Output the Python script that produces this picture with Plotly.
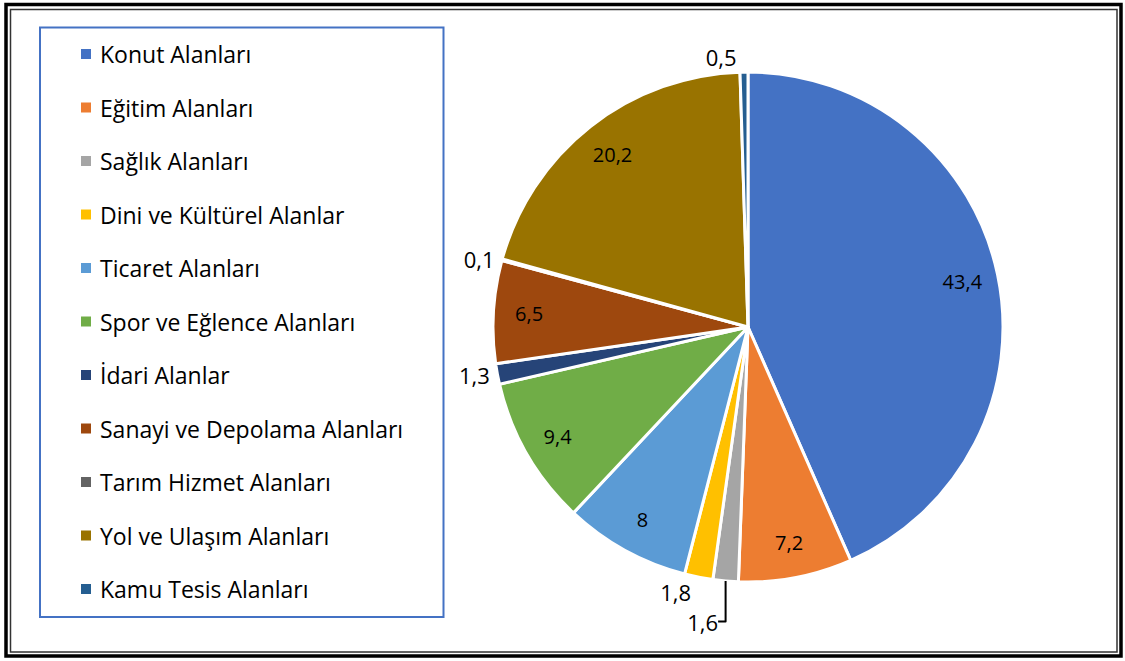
import plotly.graph_objects as go

categories = ["Konut Alanları", "Eğitim Alanları", "Sağlık Alanları", "Dini ve Kültürel Alanlar",
              "Ticaret Alanları", "Spor ve Eğlence Alanları", "İdari Alanlar",
              "Sanayi ve Depolama Alanları", "Tarım Hizmet Alanları", "Yol ve Ulaşım Alanları",
              "Kamu Tesis Alanları"]
values = [43.4, 7.2, 1.6, 1.8, 8, 9.4, 1.3, 6.5, 0.1, 20.2, 0.5]
colors = ["#4472C4", "#ED7D31", "#A5A5A5", "#FFC000", "#5B9BD5", "#70AD47",
          "#264478", "#9E480E", "#636363", "#997300", "#255E91"]
label_inside = [True, True, False, False, True, True, False, True, False, True, False]

W, H = 1125, 661
FONT = "Open Sans"

def px(x):
    return x / W

def py(y):
    return 1 - y / H

cx, cy, r = 748, 327, 255
domain = dict(x=[px(cx - r), px(cx + r)], y=[py(cy + r), py(cy - r)])
infont = dict(family=FONT, size=20, color="black")
outfont = dict(family=FONT, size=22, color="black")

# visible pie, carrying the outside labels
fig = go.Figure(go.Pie(
    labels=categories, values=values, sort=False, direction="clockwise", rotation=0,
    marker=dict(colors=colors, line=dict(color="white", width=3)),
    texttemplate="%{value}",
    textposition=["none" if ins else "outside" for ins in label_inside],
    textfont=outfont, outsidetextfont=outfont,
    domain=domain, showlegend=False, hoverinfo="label+value",
))
# transparent ring carrying the inside labels near the outer edge
fig.add_trace(go.Pie(
    labels=categories, values=values, sort=False, direction="clockwise", rotation=0,
    hole=0.72,
    marker=dict(colors=["rgba(0,0,0,0)"] * len(values), line=dict(width=0)),
    texttemplate="%{value}",
    textposition=["inside" if ins else "none" for ins in label_inside],
    insidetextorientation="horizontal",
    textfont=infont, insidetextfont=infont,
    domain=domain, showlegend=False, hoverinfo="skip",
))

shapes = [
    dict(type="rect", xref="paper", yref="paper", x0=px(6), x1=px(1121), y0=py(656), y1=py(4.5),
         line=dict(color="black", width=3.5)),
    dict(type="rect", xref="paper", yref="paper", x0=px(10.5), x1=px(1117), y0=py(652), y1=py(9.5),
         line=dict(color="#333333", width=1.5)),
    dict(type="rect", xref="paper", yref="paper", x0=px(40), x1=px(443.5), y0=py(617), y1=py(27.5),
         line=dict(color="#4472C4", width=2)),
]
annotations = []
for i, (cat, col) in enumerate(zip(categories, colors)):
    yc = 54 + i * 53.5
    shapes.append(dict(type="rect", xref="paper", yref="paper",
                       x0=px(81), x1=px(91), y0=py(yc + 5), y1=py(yc - 5),
                       fillcolor=col, line=dict(width=0)))
    annotations.append(dict(xref="paper", yref="paper", x=px(98), y=py(yc), text=cat,
                            showarrow=False, xanchor="left", yanchor="middle",
                            font=dict(family=FONT, size=23, color="black")))

fig.update_layout(
    width=W, height=H, margin=dict(l=0, r=0, t=0, b=0),
    paper_bgcolor="white", plot_bgcolor="white",
    separators=", ", shapes=shapes, annotations=annotations,
    font=dict(family=FONT),
)
fig.write_html("out.html", config={"displayModeBar": False},
               post_script="document.body.style.margin='0';")
